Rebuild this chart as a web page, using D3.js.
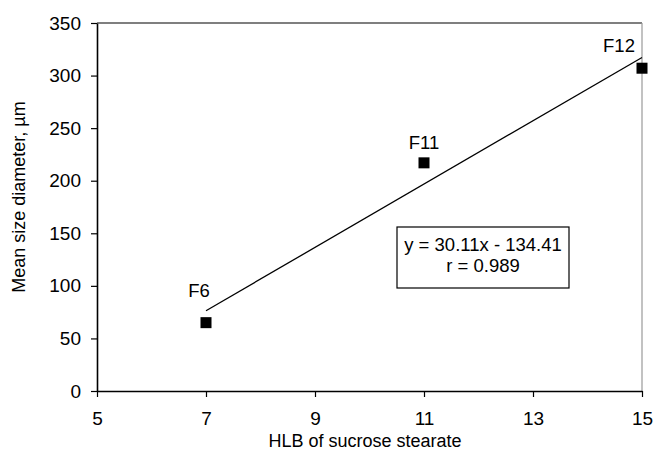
<!DOCTYPE html>
<html>
<head>
<meta charset="utf-8">
<script src="https://cdn.jsdelivr.net/npm/d3@7"></script>
<style>
  body { margin: 0; background: #fff; }
  svg text { font-family: "Liberation Sans", Arial, sans-serif; fill: #000; }
</style>
</head>
<body>
<div id="chart"></div>
<script>
// data
const labels = ["F6", "F11", "F12"];
const hlb = [7, 11, 15];
const meanSize = [65, 217, 307];
const xTicks = [5, 7, 9, 11, 13, 15];
const yTicks = [0, 50, 100, 150, 200, 250, 300, 350];
const slope = 30.11;
const intercept = -134.41;
const equationLines = ["y = 30.11x - 134.41", "r = 0.989"];

const margin = {top: 23, right: 13, bottom: 61, left: 97};
const width = 655 - margin.left - margin.right;
const height = 452 - margin.top - margin.bottom;

const svg = d3.select("#chart").append("svg")
    .attr("width", 655)
    .attr("height", 452);

const g = svg.append("g")
    .attr("transform", `translate(${margin.left},${margin.top})`);

const x = d3.scaleLinear().domain([5, 15]).range([0, width]);
const y = d3.scaleLinear().domain([0, 350]).range([height, 0]);

// top and right frame
g.append("line")
    .attr("x1", 0).attr("x2", width).attr("y1", 0).attr("y2", 0)
    .attr("stroke", "#000").attr("stroke-width", 1.2);
g.append("line")
    .attr("x1", width).attr("x2", width).attr("y1", 0).attr("y2", height)
    .attr("stroke", "#999").attr("stroke-width", 1.2);

const xAxis = g.append("g")
    .attr("transform", `translate(0,${height})`)
    .call(d3.axisBottom(x).tickValues(xTicks).tickSize(6).tickPadding(15).tickSizeOuter(0));

const yAxis = g.append("g")
    .call(d3.axisLeft(y).tickValues(yTicks).tickSize(6).tickPadding(10).tickSizeOuter(0));

[xAxis, yAxis].forEach(a => {
    a.select(".domain").attr("stroke", "#000").attr("stroke-width", 1.6);
    a.selectAll(".tick line").attr("stroke", "#000").attr("stroke-width", 1.2);
    a.selectAll(".tick text")
        .attr("font-size", "19px")
        .attr("font-family", "Liberation Sans, Arial, sans-serif")
        .attr("fill", "#000");
});

// axis titles
svg.append("text")
    .attr("x", 365)
    .attr("y", 447)
    .attr("text-anchor", "middle")
    .attr("font-size", "18px")
    .text("HLB of sucrose stearate");

svg.append("text")
    .attr("transform", `translate(25,${margin.top + 174}) rotate(-90)`)
    .attr("text-anchor", "middle")
    .attr("font-size", "18px")
    .text("Mean size diameter, µm");

// regression line over the data range
const xr = d3.extent(hlb);
g.append("line")
    .attr("x1", x(xr[0])).attr("y1", y(slope * xr[0] + intercept))
    .attr("x2", x(xr[1])).attr("y2", y(slope * xr[1] + intercept))
    .attr("stroke", "#000").attr("stroke-width", 1.3);

const points = labels.map((d, i) => ({label: d, x: hlb[i], y: meanSize[i]}));
const markerSize = 11;

g.selectAll(".pt")
    .data(points)
    .enter().append("rect")
    .attr("class", "pt")
    .attr("x", d => x(d.x) - markerSize / 2)
    .attr("y", d => y(d.y) - markerSize / 2)
    .attr("width", markerSize)
    .attr("height", markerSize)
    .attr("fill", "#000");

// point labels sit above and a bit left of each marker
const labelDx = [-7, 0, -23];
const labelDy = [-26, -14, -16];
g.selectAll(".pl")
    .data(points)
    .enter().append("text")
    .attr("class", "pl")
    .attr("x", (d, i) => x(d.x) + labelDx[i])
    .attr("y", (d, i) => y(d.y) + labelDy[i])
    .attr("text-anchor", "middle")
    .attr("font-size", "18.5px")
    .text(d => d.label);

// equation box
const box = g.append("g").attr("transform", `translate(${397 - margin.left},${227 - margin.top})`);
box.append("rect")
    .attr("width", 172).attr("height", 61)
    .attr("fill", "#fff").attr("stroke", "#000").attr("stroke-width", 1.2);
box.selectAll("text")
    .data(equationLines)
    .enter().append("text")
    .attr("x", 86)
    .attr("y", (d, i) => 24 + i * 21)
    .attr("text-anchor", "middle")
    .attr("font-size", "18.5px")
    .text(d => d);
</script>
</body>
</html>
